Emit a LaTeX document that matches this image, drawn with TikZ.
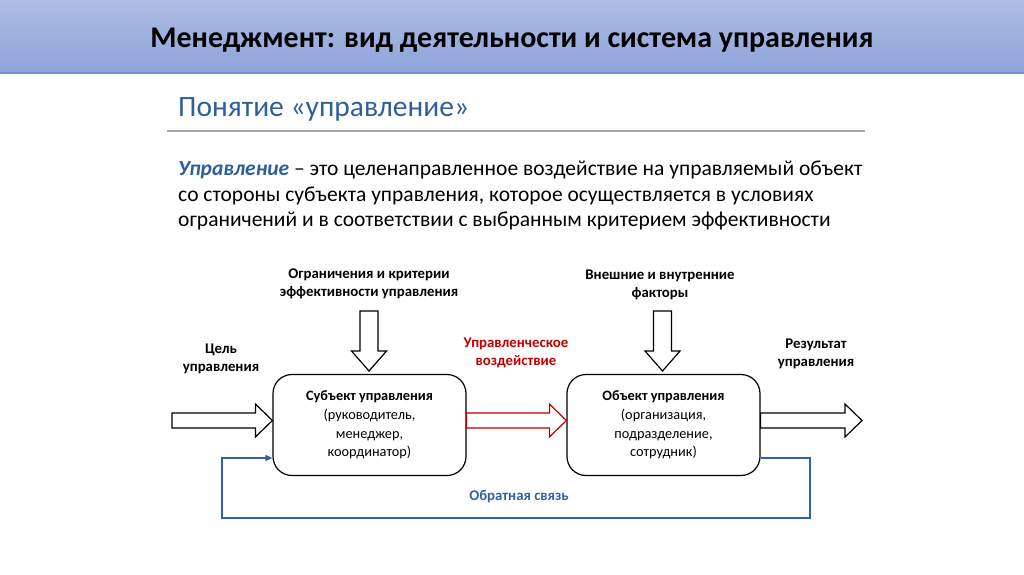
\documentclass[tikz,border=0pt]{standalone}
\usepackage{fontspec}
\setmainfont{Carlito}
\usetikzlibrary{calc,arrows.meta}
\definecolor{hdrtop}{HTML}{AFBDE4}
\definecolor{hdrbot}{HTML}{8DA3D9}
\definecolor{hdrline}{HTML}{7391D0}
\definecolor{ttlblue}{HTML}{2E5E9C}
\definecolor{redc}{HTML}{C00000}
\definecolor{fbblue}{HTML}{2F62A8}
\definecolor{rulegray}{HTML}{A6A6A6}
\newcommand\harr[3][]{\draw[#1] let \p1=(#2), \p2=(#3) in (\x1,\y1-7.5) -- (\x2-17,\y1-7.5) -- (\x2-17,\y1-16.5) -- (\x2,\y1) -- (\x2-17,\y1+16.5) -- (\x2-17,\y1+7.5) -- (\x1,\y1+7.5) -- cycle;}
\newcommand\varr[3][]{\draw[#1] let \p1=(#2), \p2=(#3) in (\x1-9,\y1) -- (\x1-9,\y2+20) -- (\x1-17.5,\y2+20) -- (\x1,\y2) -- (\x1+17.5,\y2+20) -- (\x1+9,\y2+20) -- (\x1+9,\y1) -- cycle;}
\tikzset{
  box/.style={draw, line width=1.2pt, rounded corners=19pt, minimum width=193pt, minimum height=101pt, align=center, font=\fontsize{14.3}{18.8}\selectfont, fill=white},
  lbl/.style={align=center, font=\bfseries\fontsize{14.8}{18.5}\selectfont},
  barrow/.style={draw, line width=1.2pt, fill=white},
  fbline/.style={draw=fbblue, line width=1.4pt}
}
\begin{document}
\begin{tikzpicture}[x=1pt,y=-1pt]
\useasboundingbox (0,0) rectangle (1024,574);
\shade[top color=hdrtop,bottom color=hdrbot] (0,0) rectangle (1024,73);
\draw[hdrline, line width=1.5pt] (0,73) -- (1024,73);
\node[font=\bfseries\fontsize{30}{34}\selectfont] (title) at (512,40) {Менеджмент: вид деятельности и система управления};
\node[anchor=base west, text=ttlblue, font=\fontsize{29.5}{32}\selectfont, inner sep=0] (sub) at (178,116) {Понятие «управление»};
\draw[rulegray, line width=1.5pt] (167,131) -- (865,131);
\node[anchor=north west, inner sep=0, align=left, font=\fontsize{21.5}{25.5}\selectfont] (para) at (178,161)
 {\textcolor{ttlblue}{\bfseries\itshape Управление} – это целенаправленное воздействие на управляемый объект\\
  со стороны субъекта управления, которое осуществляется в условиях\\
  ограничений и в соответствии с выбранным критерием эффективности};

\node[box] (subj) at (369.5,425) {\textbf{Субъект управления}\\(руководитель,\\менеджер,\\координатор)};
\node[box] (obj) at (663.5,425) {\textbf{Объект управления}\\(организация,\\подразделение,\\сотрудник)};

\node[lbl] (lim) at (369,284) {Ограничения и критерии\\эффективности управления};
\node[lbl] (fac) at (660,285) {Внешние и внутренние\\факторы};
\node[lbl] (goal) at (221,359) {Цель\\управления};
\node[lbl, text=redc] (act) at (516,353) {Управленческое\\воздействие};
\node[lbl] (res) at (816,354) {Результат\\управления};
\node[lbl, text=fbblue] (fb) at (519,497) {Обратная связь};

\coordinate (inL) at (172,420.5);
\harr[barrow]{inL}{subj.west |- inL}
\harr[barrow, draw=redc]{subj.east |- inL}{obj.west |- inL}
\coordinate (outR) at (862,420.5);
\harr[barrow]{obj.east |- inL}{outR}

\coordinate (limTop) at (369,311);
\varr[barrow]{limTop}{369,371}
\coordinate (facTop) at (662.5,311);
\varr[barrow]{facTop}{662.5,371}

\coordinate (fb1) at (810,458);
\coordinate (fb2) at (810,518);
\coordinate (fb3) at (222,518);
\coordinate (fb4) at (222,458);
\draw[fbline, -{Triangle[length=7pt,width=6pt]}] (obj.east |- fb1) -- (fb1) -- (fb2) -- (fb3) -- (fb4) -- (subj.west |- fb4);
\end{tikzpicture}
\end{document}
